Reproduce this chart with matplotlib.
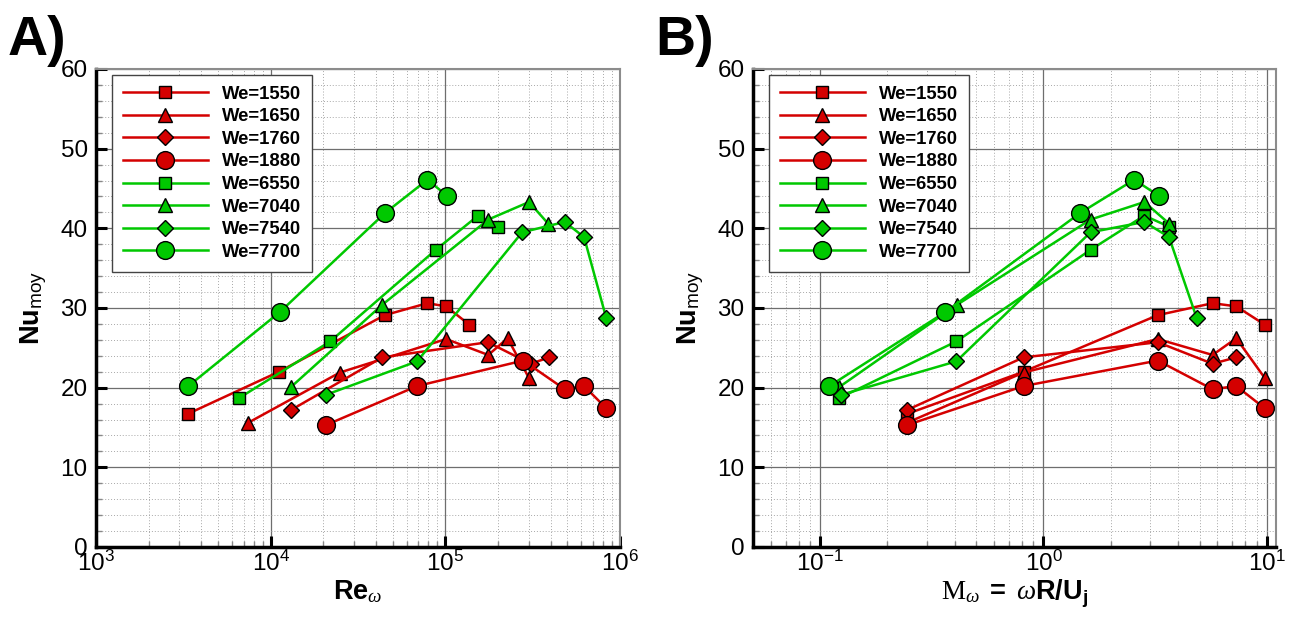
import matplotlib
matplotlib.use('Agg')
import matplotlib.pyplot as plt
import matplotlib.ticker as ticker
import numpy as np

plt.rcParams['font.family'] = ['Liberation Sans', 'DejaVu Sans']
plt.rcParams['mathtext.fontset'] = 'custom'
plt.rcParams['mathtext.rm'] = 'Liberation Sans'
plt.rcParams['mathtext.bf'] = 'Liberation Sans:bold'
plt.rcParams['mathtext.it'] = 'Liberation Serif:italic'
plt.rcParams['mathtext.cal'] = 'Liberation Serif'
plt.rcParams['mathtext.sf'] = 'Liberation Sans'

# Data
labels = ['We=1550', 'We=1650', 'We=1760', 'We=1880',
          'We=6550', 'We=7040', 'We=7540', 'We=7700']
markers = ['s', '^', 'D', 'o', 's', '^', 'D', 'o']

# Re_omega (panel A)
re_1550 = [3350, 11160, 45000, 78900, 101000, 137000]
re_1650 = [7440, 24900, 101000, 176000, 227000, 301000]
re_1760 = [13100, 43500, 175000, 308000, 393000]
re_1880 = [20700, 68900, 279000, 482000, 622000, 834000]
re_6550 = [6600, 21900, 88100, 154000, 200000]
re_7040 = [13100, 43500, 176000, 301000, 387000]
re_7540 = [20700, 68900, 275000, 482000, 622000, 834000]
re_7700 = [3380, 11300, 45000, 78900, 102000]

# M_omega = omega R / U_j (panel B)
m_1550 = [0.245, 0.815, 3.25, 5.72, 7.3, 9.8]
m_1650 = [0.245, 0.815, 3.25, 5.72, 7.3, 9.8]
m_1760 = [0.245, 0.815, 3.25, 5.72, 7.3]
m_1880 = [0.245, 0.815, 3.25, 5.72, 7.3, 9.8]
m_6550 = [0.122, 0.407, 1.625, 2.83, 3.65]
m_7040 = [0.122, 0.41, 1.625, 2.83, 3.65]
m_7540 = [0.124, 0.407, 1.625, 2.83, 3.65, 4.86]
m_7700 = [0.110, 0.364, 1.455, 2.55, 3.28]

# Nu_moy
nu_1550 = [16.7, 22.0, 29.1, 30.6, 30.2, 27.9]
nu_1650 = [15.6, 21.9, 26.1, 24.1, 26.2, 21.2]
nu_1760 = [17.2, 23.8, 25.7, 23.0, 23.8]
nu_1880 = [15.3, 20.2, 23.4, 19.8, 20.2, 17.4]
nu_6550 = [18.7, 25.8, 37.3, 41.6, 40.2]
nu_7040 = [20.1, 30.4, 41.1, 43.3, 40.6]
nu_7540 = [19.1, 23.3, 39.5, 40.8, 38.9, 28.7]
nu_7700 = [20.2, 29.5, 41.9, 46.1, 44.1]

re_data = [re_1550, re_1650, re_1760, re_1880, re_6550, re_7040, re_7540, re_7700]
m_data = [m_1550, m_1650, m_1760, m_1880, m_6550, m_7040, m_7540, m_7700]
nu_data = [nu_1550, nu_1650, nu_1760, nu_1880, nu_6550, nu_7040, nu_7540, nu_7700]

red = '#d40000'
green = '#00c800'
colors = [red] * 4 + [green] * 4
msizes = {'s': 8.7, '^': 10.2, 'D': 8.5, 'o': 12.8}


def plot_specs(ax, xlim, xlabel):
    ax.set_xscale('log')
    ax.set_xlim(*xlim)
    ax.set_ylim(0, 60)
    ax.yaxis.set_major_locator(ticker.MultipleLocator(10))
    ax.yaxis.set_minor_locator(ticker.MultipleLocator(2))
    ax.xaxis.set_major_locator(ticker.LogLocator(base=10, numticks=10))
    ax.xaxis.set_minor_locator(ticker.LogLocator(base=10, subs=np.arange(2, 10), numticks=30))
    ax.xaxis.set_minor_formatter(ticker.NullFormatter())

    ax.set_axisbelow(True)
    ax.grid(True, which='major', color='#6e6e6e', lw=0.9, ls='-')
    ax.grid(True, which='minor', color='#a8a8a8', lw=0.7, ls=(0, (1, 2)))

    ax.tick_params(which='major', direction='in', length=8, width=2.2, labelsize=17.5)
    ax.tick_params(which='minor', direction='in', length=4, width=1, color='#888888')
    ax.tick_params(axis='x', which='major', pad=3)
    ax.tick_params(axis='y', which='major', pad=6)

    for side in ['left', 'bottom']:
        ax.spines[side].set_linewidth(2.5)
        ax.spines[side].set_color('black')
    for side in ['top', 'right']:
        ax.spines[side].set_linewidth(1.5)
        ax.spines[side].set_color('#8c8c8c')

    ax.set_ylabel(r'$\mathbf{Nu}_{\mathrm{moy}}$', fontsize=19.5, labelpad=8)
    ax.set_xlabel(xlabel, fontsize=19.5, labelpad=1)

    ax.legend(loc='upper left', bbox_to_anchor=(0.03, 0.988), borderaxespad=0,
              prop={'weight': 'bold', 'size': 13.3}, handlelength=4.6,
              handletextpad=0.75, labelspacing=0.3, borderpad=0.6,
              fancybox=False, framealpha=1, edgecolor='#444444')


fig = plt.figure(figsize=(12.94, 6.17), dpi=100)
ax_a = fig.add_axes([0.0742, 0.1135, 0.405, 0.7747])
ax_b = fig.add_axes([0.5819, 0.1135, 0.4042, 0.7747])

for i in range(len(labels)):
    mk = markers[i]
    ax_a.plot(re_data[i], nu_data[i], color=colors[i], lw=1.8, marker=mk,
              ms=msizes[mk], mfc=colors[i], mec='black', mew=1.0, label=labels[i])
    ax_b.plot(m_data[i], nu_data[i], color=colors[i], lw=1.8, marker=mk,
              ms=msizes[mk], mfc=colors[i], mec='black', mew=1.0, label=labels[i])

plot_specs(ax_a, (1e3, 1e6), r'$\mathbf{Re}_{\omega}$')
plot_specs(ax_b, (0.05, 11), r'$\mathcal{M}_{\omega}\ \mathbf{=}\ \omega\mathbf{R/U_j}$')

fig.text(0.006, 0.911, 'A)', fontsize=40, fontweight='bold', va='baseline')
fig.text(0.506, 0.911, 'B)', fontsize=40, fontweight='bold', va='baseline')

fig.savefig('out.png', dpi=100)
